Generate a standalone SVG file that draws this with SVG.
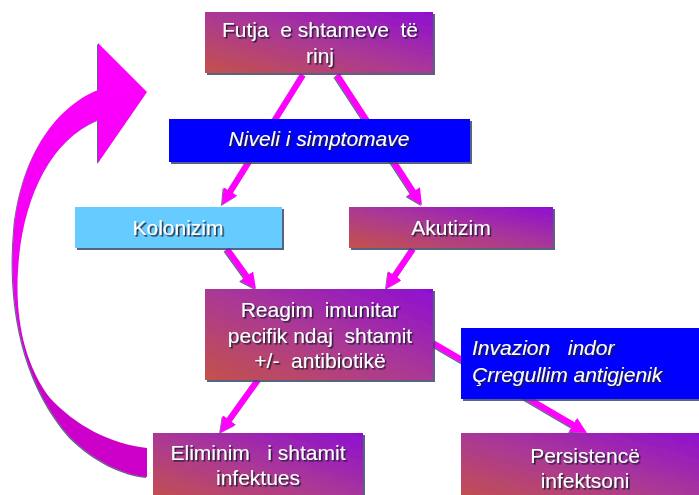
<svg xmlns="http://www.w3.org/2000/svg" width="699" height="495" viewBox="0 0 699 495">
<defs>
<linearGradient id="pg" x1="0" y1="1" x2="1" y2="0">
<stop offset="0" stop-color="#c4524a"/>
<stop offset="0.5" stop-color="#aa3896"/>
<stop offset="1" stop-color="#8e0fd2"/>
</linearGradient>
<linearGradient id="ag" x1="0" y1="0" x2="0" y2="1">
<stop offset="0" stop-color="#ff00ff"/>
<stop offset="0.55" stop-color="#f000f0"/>
<stop offset="0.75" stop-color="#cc00cc"/>
<stop offset="1" stop-color="#cc00c8"/>
</linearGradient>
<filter id="bs" x="-5%" y="-5%" width="115%" height="120%">
<feDropShadow dx="2" dy="2" stdDeviation="0.7" flood-color="#3a4a70" flood-opacity="0.85"/>
</filter>
<filter id="ts" x="-5%" y="-20%" width="115%" height="150%">
<feDropShadow dx="1.6" dy="1.6" stdDeviation="0.7" flood-color="#1a1a30" flood-opacity="0.9"/>
</filter>
<filter id="ls" x="-10%" y="-10%" width="125%" height="125%">
<feDropShadow dx="-1" dy="1" stdDeviation="0.6" flood-color="#30406a" flood-opacity="0.8"/>
</filter>
<marker id="ah" viewBox="0 0 16 16" markerUnits="userSpaceOnUse" markerWidth="16" markerHeight="16" refX="2" refY="8" orient="auto">
<path d="M0,0 L16,8 L0,16 Z" fill="#ff00ff"/>
</marker>
<style>
.pb{fill:url(#pg);filter:url(#bs);}
.bb{fill:#0000ff;filter:url(#bs);}
.lb{fill:#66ccff;filter:url(#bs);}
.t{font-family:"Liberation Sans",Arial,sans-serif;font-size:21px;fill:#ffffff;filter:url(#ts);white-space:pre;}
.c{text-anchor:middle;}
.i{font-style:italic;}
.cn{stroke:#ff00ff;stroke-width:6;fill:none;marker-end:url(#ah);}
</style>
</defs>
<g id="cycle-arrow" filter="url(#ls)">
<path d="M98,43 L147,92 L98,163 L98,120 C50,140 22,200 18,270 C15,320 25,365 50,398 C75,425 110,444 147,448 L147,477 C125,475 95,462 70,437 C20,380 8,300 14,230 C22,150 60,105 98,90 Z" fill="url(#ag)"/>
</g>
<g id="connectors" filter="url(#ls)">
<line class="cn" x1="303" y1="75" x2="229.4" y2="193.1"/>
<line class="cn" x1="337" y1="75" x2="414.3" y2="193.3"/>
<line class="cn" x1="227" y1="249" x2="247.8" y2="277.7"/>
<line class="cn" x1="413" y1="249" x2="393.8" y2="277.4"/>
<line class="cn" x1="258" y1="380" x2="228.2" y2="421.6"/>
<line class="cn" x1="433" y1="343" x2="574.9" y2="425.9"/>
</g>
<g id="node-futja">
<rect class="pb" x="205" y="12" width="228" height="61"/>
<text class="t c" x="320" y="37">Futja  e shtameve  të</text>
<text class="t c" x="320" y="63">rinj</text>
</g>
<g id="node-niveli">
<rect class="bb" x="169" y="119" width="301" height="43"/>
<text class="t c i" x="319" y="146">Niveli i simptomave</text>
</g>
<g id="node-kolonizim">
<rect class="lb" x="75" y="207" width="207" height="41"/>
<text class="t c" x="178" y="235">Kolonizim</text>
</g>
<g id="node-akutizim">
<rect class="pb" x="349" y="207" width="204" height="41"/>
<text class="t c" x="451" y="235">Akutizim</text>
</g>
<g id="node-reagim">
<rect class="pb" x="205" y="289" width="228" height="91"/>
<text class="t c" x="320" y="317">Reagim  imunitar</text>
<text class="t c" x="320" y="343">pecifik ndaj  shtamit</text>
<text class="t c" x="320" y="368">+/-  antibiotikë</text>
</g>
<g id="node-invazion">
<rect class="bb" x="461" y="328" width="245" height="71"/>
<text class="t i" x="472" y="355">Invazion   indor</text>
<text class="t i" x="472" y="382">Çrregullim antigjenik</text>
</g>
<g id="node-eliminim">
<rect class="pb" x="153" y="433" width="210" height="70"/>
<text class="t c" x="258" y="460">Eliminim   i shtamit</text>
<text class="t c" x="258" y="485">infektues</text>
</g>
<g id="node-persistence">
<rect class="pb" x="461" y="433" width="245" height="70"/>
<text class="t c" x="585" y="463">Persistencë</text>
<text class="t c" x="585" y="488">infektsoni</text>
</g>
</svg>
